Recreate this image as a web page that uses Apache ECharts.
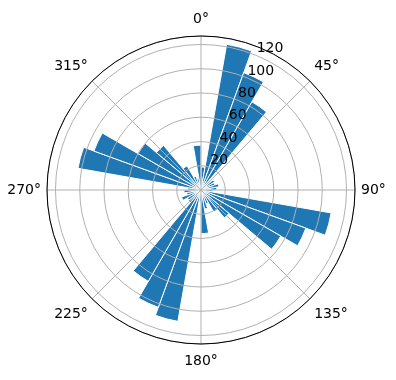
<!DOCTYPE html>
<html>
<head>
<meta charset="utf-8">
<script src="https://cdn.jsdelivr.net/npm/echarts@6/dist/echarts.min.js"></script>
<style>
  html, body { margin: 0; padding: 0; background: #fff; }
  #chart { width: 396px; height: 380px; }
</style>
</head>
<body>
<div id="chart"></div>
<script>
// 36 direction bins of 10 degrees, clockwise from north
var binStarts = [0, 10, 20, 30, 40, 50, 60, 70, 80, 90, 100, 110, 120, 130, 140, 150, 160, 170,
                 180, 190, 200, 210, 220, 230, 240, 250, 260, 270, 280, 290, 300, 310, 320, 330, 340, 350];
var counts = [19, 122, 103, 84, 9, 13, 12, 15, 13, 10, 109, 92, 76, 30, 21, 12, 16, 36,
              10, 110, 103, 87, 14, 13, 17, 12, 14, 11, 103, 94, 60, 48, 23, 12, 10, 37];
var radiusTicks = [20, 40, 60, 80, 100, 120];
var angleTicks = [0, 45, 90, 135, 180, 225, 270, 315];
var rMax = 127;

var font = 'DejaVu Sans';
var center = [201, 190];
var radius = 154;

var chart = echarts.init(document.getElementById('chart'), null, { renderer: 'canvas' });

chart.setOption({
  animation: false,
  polar: [
    { center: center, radius: radius },   // grid + angle labels
    { center: center, radius: radius },   // bars
    { center: center, radius: radius }    // radial tick labels at 22.5 deg
  ],
  angleAxis: [
    {
      polarIndex: 0,
      type: 'value',
      min: 0,
      max: 360,
      interval: 45,
      startAngle: 90,
      clockwise: true,
      z: 5,
      axisLine: { show: true, lineStyle: { color: '#000', width: 1 } },
      axisTick: { show: false },
      splitLine: { show: true, lineStyle: { color: '#b0b0b0', width: 1 } },
      axisLabel: {
        show: true,
        margin: 6,
        lineHeight: 22,
        color: '#000',
        fontFamily: font,
        fontSize: 14,
        formatter: function (v) {
          return angleTicks.indexOf(v) >= 0 ? v + '°' : '';
        }
      }
    },
    {
      polarIndex: 1,
      type: 'category',
      data: binStarts,
      startAngle: 90,
      clockwise: true,
      show: false
    },
    {
      polarIndex: 2,
      type: 'value',
      min: 0,
      max: 360,
      startAngle: 67.5,
      show: false
    }
  ],
  radiusAxis: [
    {
      polarIndex: 0,
      type: 'value',
      min: 0,
      max: rMax,
      interval: 20,
      z: 5,
      axisLine: { show: false },
      axisTick: { show: false },
      axisLabel: { show: false },
      splitLine: { show: true, lineStyle: { color: '#b0b0b0', width: 1 } }
    },
    {
      polarIndex: 1,
      type: 'value',
      min: 0,
      max: rMax,
      show: false
    },
    {
      polarIndex: 2,
      type: 'value',
      min: 0,
      max: rMax,
      interval: 20,
      z: 6,
      axisLine: { show: false },
      axisTick: { show: false },
      splitLine: { show: false },
      axisLabel: {
        show: true,
        margin: 0,
        align: 'left',
        verticalAlign: 'bottom',
        color: '#000',
        fontFamily: font,
        fontSize: 14,
        formatter: function (v) {
          return radiusTicks.indexOf(v) >= 0 ? String(v) : '';
        }
      }
    }
  ],
  series: [
    {
      type: 'bar',
      coordinateSystem: 'polar',
      polarIndex: 1,
      data: counts,
      barCategoryGap: '0%',
      itemStyle: { color: '#1f77b4', borderColor: '#fff', borderWidth: 1 },
      z: 2
    }
  ]
});
</script>
</body>
</html>
